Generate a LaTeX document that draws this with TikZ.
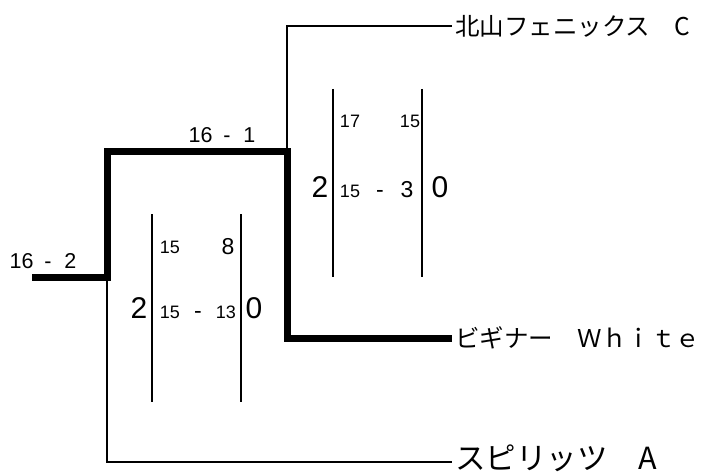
\documentclass[tikz,border=0pt]{standalone}
\usepackage{fontspec}
\setmainfont{Liberation Sans}
\newfontfamily\jpfont{Noto Sans CJK JP}
\usetikzlibrary{positioning}
\tikzset{
  loss/.style  = {draw=black, line width=2pt},
  win/.style   = {draw=black, line width=7pt, line join=miter},
  gbar/.style  = {draw=black, line width=2pt},
  team/.style  = {anchor=west, inner sep=3pt, font=\jpfont\fontsize{24.5}{25}\selectfont},
  res/.style   = {anchor=base, inner sep=0pt, font=\fontsize{21.5}{22}\selectfont},
  ptsm/.style  = {anchor=base, inner sep=0pt, font=\fontsize{18}{18}\selectfont},
  ptmd/.style  = {anchor=base, inner sep=0pt, font=\fontsize{23}{23}\selectfont},
  gmbig/.style = {anchor=base, inner sep=0pt, font=\fontsize{30}{30}\selectfont},
}

\begin{document}
\begin{tikzpicture}[x=1pt,y=-1pt]
  \useasboundingbox (0,0) rectangle (707,476);
  % bracket joints
  \coordinate (r0) at (32,277);
  \coordinate (r1) at (107,277);
  \coordinate (s1) at (107,152);
  \coordinate (s2) at (287,152);
  \coordinate (w0) at (287,338);
  \coordinate (a0) at (107,462);
  % teams
  \node[team] (kita) at (452,26) {北山フェニックス　C};
  \node[team] (begi) at (452,338) {ビギナー　Ｗｈｉｔｅ};
  \node[team, font=\jpfont\fontsize{30.5}{31}\selectfont] (spir) at (452,458) {スピリッツ　A};
  \draw[loss] (kita.west) -| (s2);
  \draw[loss] (r1) -- (a0) -- (spir.west |- a0);
  \draw[win] (r0) -- (r1) -- (s1) -- (s2) -- (w0) -- (begi.west);
  % round results
  \node[res] (fin) at (222,143) {16\hspace{0.5em}-\hspace{0.6em}1};
  \node[res] (sem) at (43,268) {16\hspace{0.5em}-\hspace{0.6em}2};
  % game 1 : kita vs begi
  \draw[gbar] (333,89) -- (333,277);
  \draw[gbar] (422,89) -- (422,277);
  \node[ptsm] (g1a) at (350,128) {17};
  \node[ptsm] (g1b) at (410,128) {15};
  \node[gmbig] (g1l) at (320,197) {2};
  \node[ptsm] (g1c) at (350,197) {15};
  \node[ptmd] (g1d) at (380,197) {-};
  \node[ptmd] (g1e) at (407,197) {3};
  \node[gmbig] (g1r) at (440,197) {0};
  % game 2 : begi vs spir
  \draw[gbar] (152,214) -- (152,402);
  \draw[gbar] (241,214) -- (241,402);
  \node[ptsm] (g2a) at (170,253) {15};
  \node[ptmd] (g2b) at (228,254) {8};
  \node[gmbig] (g2l) at (139,318) {2};
  \node[ptsm] (g2c) at (170,318) {15};
  \node[ptmd] (g2d) at (198,318) {-};
  \node[ptsm] (g2e) at (226,318) {13};
  \node[gmbig] (g2r) at (254,318) {0};
\end{tikzpicture}
\end{document}
